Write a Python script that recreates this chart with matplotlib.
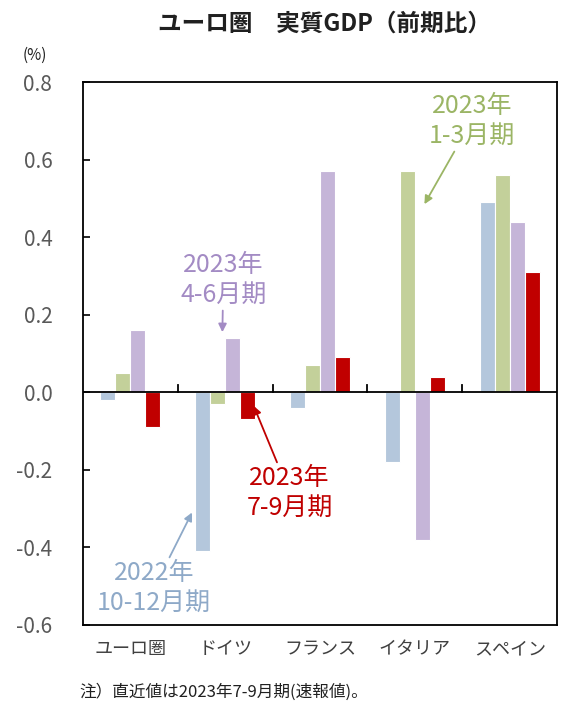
import numpy as np
import matplotlib
matplotlib.use("Agg")
import matplotlib.pyplot as plt

plt.rcParams["font.family"] = ["Noto Sans CJK JP", "DejaVu Sans"]

countries = ["ユーロ圏", "ドイツ", "フランス", "イタリア", "スペイン"]
q2022_4 = [-0.02, -0.41, -0.04, -0.18, 0.49]
q2023_1 = [0.05, -0.03, 0.07, 0.57, 0.56]
q2023_2 = [0.16, 0.14, 0.57, -0.38, 0.44]
q2023_3 = [-0.09, -0.07, 0.09, 0.04, 0.31]
yticks = [-0.6, -0.4, -0.2, 0.0, 0.2, 0.4, 0.6, 0.8]

series = [q2022_4, q2023_1, q2023_2, q2023_3]
colors = ["#B4C7DC", "#C3D09A", "#C5B5D8", "#C00000"]
text_colors = ["#8EA9C8", "#9BB565", "#A38BC4", "#C00000"]

fig = plt.figure(figsize=(5.68, 7.07), dpi=100)
ax = fig.add_axes([0.146, 0.116, 0.835, 0.768])

x = np.arange(len(countries))
w = 0.158
for i, (vals, c) in enumerate(zip(series, colors)):
    ax.bar(x + (i - 1.5) * w, vals, width=w, color=c, edgecolor="white", linewidth=0.8, zorder=2)

ax.axhline(0, color="black", linewidth=1.3, zorder=3)
for b in x[:-1] + 0.5:
    ax.plot([b, b], [0, 0.018], color="black", linewidth=1.3, zorder=3)

ax.set_xlim(-0.5, 4.5)
ax.set_ylim(-0.6, 0.8)
ax.set_yticks(yticks)
ax.set_yticklabels([f"{v:.1f}" for v in yticks])
ax.tick_params(axis="y", direction="in", length=5, width=1.2, pad=22, labelsize=15, labelcolor="#595959")
ax.set_xticks([])
for s in ax.spines.values():
    s.set_linewidth(1.3)

for xi, name in zip(x, countries):
    ax.text(xi, -0.663, name, ha="center", va="center", fontsize=13, color="#404040")

fig.text(0.572, 0.966, "ユーロ圏　実質GDP（前期比）", ha="center", va="center", fontsize=17, fontweight="bold", color="#202020")
fig.text(0.062, 0.922, "(%)", ha="center", va="center", fontsize=11, color="#202020")
fig.text(0.14, 0.021, "注）直近値は2023年7-9月期(速報値)。", ha="left", va="center", fontsize=12, color="#202020")

def label(txt, tx, ty, ax_, ay_, col):
    ax.annotate(txt, xy=(ax_, ay_), xytext=(tx, ty), textcoords="data", ha="center", va="center",
                fontsize=18, color=col, linespacing=1.2,
                arrowprops=dict(arrowstyle="-|>", color=col, lw=1.3, mutation_scale=12, shrinkA=0, shrinkB=0))

label("2023年\n1-3月期", 3.6, 0.7, 3.1, 0.485, text_colors[1])
label("2023年\n4-6月期", 0.98, 0.29, 0.97, 0.155, text_colors[2])
label("2023年\n7-9月期", 1.68, -0.26, 1.3, -0.035, text_colors[3])
label("2022年\n10-12月期", 0.25, -0.505, 0.65, -0.31, text_colors[0])

fig.savefig("out.png", dpi=100)
